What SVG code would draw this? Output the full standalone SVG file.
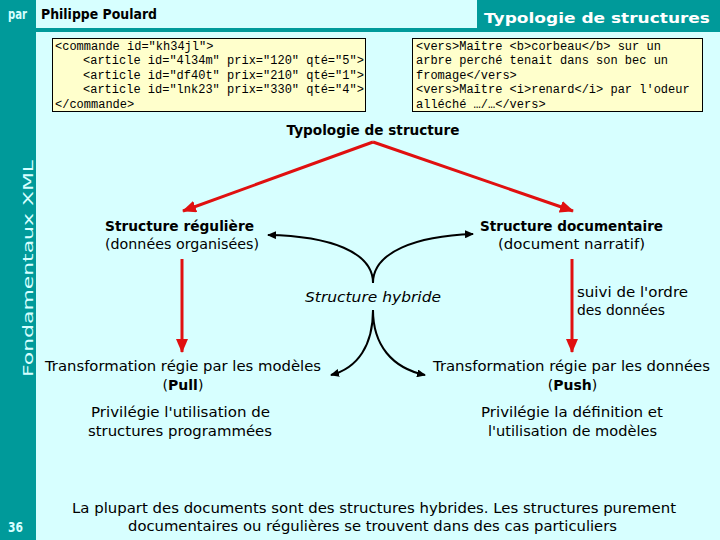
<svg xmlns="http://www.w3.org/2000/svg" width="720" height="540" viewBox="0 0 720 540">
<defs>
<style>
.bg{fill:#D7FFFF}
.teal{fill:#009A9A}
.code{fill:#FFFFCC;stroke:#000;stroke-width:1}
.mono{font-family:"Liberation Mono","Courier New",monospace;font-size:12px;fill:#000}
.t{font-family:"DejaVu Sans","Liberation Sans",sans-serif;font-size:14px;fill:#000}
.b{font-weight:bold}
.i{font-style:italic}
.m{text-anchor:middle}
.red{stroke:#E01010;stroke-width:3;fill:none}
.blk{stroke:#000;stroke-width:2;fill:none}
.light{fill:#D7FFFF}
</style>
<marker id="ar" markerUnits="userSpaceOnUse" markerWidth="14" markerHeight="12" refX="13" refY="6" orient="auto">
<path d="M0,0 L14,6 L0,12 Z" fill="#E01010"/>
</marker>
<marker id="ab" markerUnits="userSpaceOnUse" markerWidth="9" markerHeight="8" refX="8" refY="4" orient="auto">
<path d="M0,0 L9,4 L0,8 Z" fill="#000"/>
</marker>
</defs>

<rect class="bg" x="0" y="0" width="720" height="540"/>
<rect class="teal" x="0" y="0" width="36" height="540"/>
<rect class="teal" x="36" y="28" width="684" height="4"/>
<rect class="teal" x="477" y="0" width="243" height="32"/>

<g id="header">
<text class="t b light" x="8" y="19" font-size="14" textLength="19" lengthAdjust="spacingAndGlyphs">par</text>
<text class="t b" x="41" y="19" font-size="15" textLength="116" lengthAdjust="spacingAndGlyphs">Philippe Poulard</text>
<text class="t b" x="484" y="23" font-size="19" style="fill:#fff" textLength="226" lengthAdjust="spacingAndGlyphs">Typologie de structures</text>
<text class="t light" transform="translate(33,377) rotate(-90)" font-size="21" textLength="217" lengthAdjust="spacingAndGlyphs">Fondamentaux XML</text>
<text class="t b light" x="8" y="532" font-size="13" textLength="15" lengthAdjust="spacingAndGlyphs">36</text>
</g>

<g id="code-regular">
<rect class="code" x="52.5" y="38.5" width="313" height="73"/>
<text class="mono" x="55" y="50">&lt;commande id="kh34jl"&gt;</text>
<text class="mono" x="83" y="64.4">&lt;article id="4l34m" prix="120" qté="5"&gt;</text>
<text class="mono" x="83" y="78.8">&lt;article id="df40t" prix="210" qté="1"&gt;</text>
<text class="mono" x="83" y="93.2">&lt;article id="lnk23" prix="330" qté="4"&gt;</text>
<text class="mono" x="55" y="107.6">&lt;/commande&gt;</text>
</g>

<g id="code-document">
<rect class="code" x="412.5" y="38.5" width="290" height="73"/>
<text class="mono" x="416" y="50">&lt;vers&gt;Maître &lt;b&gt;corbeau&lt;/b&gt; sur un</text>
<text class="mono" x="416" y="64.4">arbre perché tenait dans son bec un</text>
<text class="mono" x="416" y="78.8">fromage&lt;/vers&gt;</text>
<text class="mono" x="416" y="93.2">&lt;vers&gt;Maître &lt;i&gt;renard&lt;/i&gt; par l'odeur</text>
<text class="mono" x="416" y="107.6">alléché …/…&lt;/vers&gt;</text>
</g>

<g id="connectors">
<path class="red" d="M373,142 L183,211" marker-end="url(#ar)"/>
<path class="red" d="M373,142 L573,211" marker-end="url(#ar)"/>
<path class="red" d="M182,259 L182,352" marker-end="url(#ar)"/>
<path class="red" d="M572,259 L572,352" marker-end="url(#ar)"/>
<path class="blk" d="M373,283 C373,252 330,236 268,235" marker-end="url(#ab)"/>
<path class="blk" d="M373,283 C373,252 416,236 473,234" marker-end="url(#ab)"/>
<path class="blk" d="M373,310 C373,345 358,368 331,375" marker-end="url(#ab)"/>
<path class="blk" d="M373,310 C373,345 392,368 425,375" marker-end="url(#ab)"/>
</g>

<g id="typologie">
<text class="t b m" x="373" y="135" font-size="14" textLength="173" lengthAdjust="spacingAndGlyphs">Typologie de structure</text>
</g>

<g id="reguliere">
<text class="t b" x="105" y="231" font-size="14" textLength="149" lengthAdjust="spacingAndGlyphs">Structure régulière</text>
<text class="t" x="105" y="249" font-size="15" textLength="154" lengthAdjust="spacingAndGlyphs">(données organisées)</text>
</g>

<g id="documentaire">
<text class="t b m" x="571.5" y="231" font-size="14" textLength="183" lengthAdjust="spacingAndGlyphs">Structure documentaire</text>
<text class="t m" x="571.5" y="249" font-size="15" textLength="147" lengthAdjust="spacingAndGlyphs">(document narratif)</text>
</g>

<g id="hybride">
<text class="t i m" x="373" y="302" font-size="15" textLength="136" lengthAdjust="spacingAndGlyphs">Structure hybride</text>
</g>

<g id="suivi">
<text class="t" x="577" y="297" font-size="15" textLength="111" lengthAdjust="spacingAndGlyphs">suivi de l'ordre</text>
<text class="t" x="577" y="315" font-size="15" textLength="88" lengthAdjust="spacingAndGlyphs">des données</text>
</g>

<g id="pull">
<text class="t m" x="183" y="371" font-size="15" textLength="276" lengthAdjust="spacingAndGlyphs">Transformation régie par les modèles</text>
<text class="t m" x="183" y="390" font-size="15">(<tspan class="b">Pull</tspan>)</text>
<text class="t m" x="180.5" y="417" font-size="15" textLength="179" lengthAdjust="spacingAndGlyphs">Privilégie l'utilisation de</text>
<text class="t m" x="180" y="436" font-size="15" textLength="184" lengthAdjust="spacingAndGlyphs">structures programmées</text>
</g>

<g id="push">
<text class="t m" x="571.5" y="371" font-size="15" textLength="277" lengthAdjust="spacingAndGlyphs">Transformation régie par les données</text>
<text class="t m" x="572.5" y="390" font-size="15">(<tspan class="b">Push</tspan>)</text>
<text class="t m" x="572" y="417" font-size="15" textLength="182" lengthAdjust="spacingAndGlyphs">Privilégie la définition et</text>
<text class="t m" x="572.5" y="436" font-size="15" textLength="169" lengthAdjust="spacingAndGlyphs">l'utilisation de modèles</text>
</g>

<g id="conclusion">
<text class="t m" x="374" y="513" font-size="15" textLength="604" lengthAdjust="spacingAndGlyphs">La plupart des documents sont des structures hybrides. Les structures purement</text>
<text class="t m" x="372.5" y="531" font-size="15" textLength="489" lengthAdjust="spacingAndGlyphs">documentaires ou régulières se trouvent dans des cas particuliers</text>
</g>
</svg>
